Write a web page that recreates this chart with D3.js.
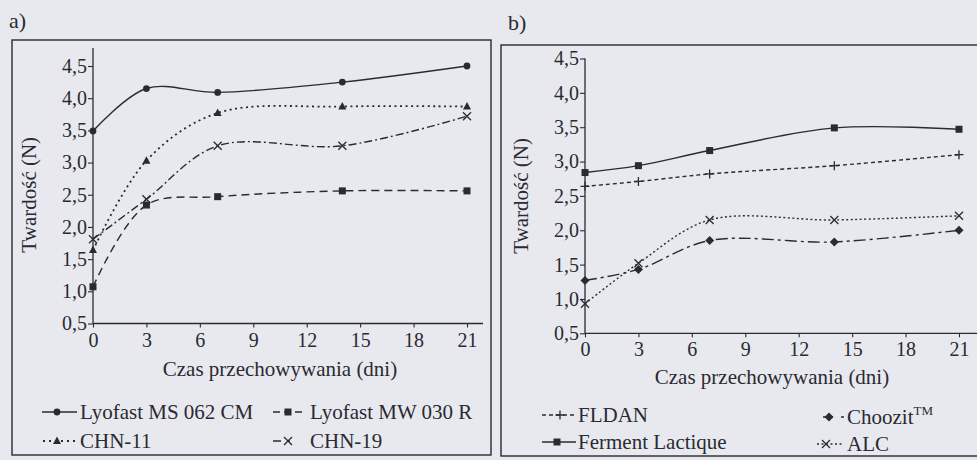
<!DOCTYPE html>
<html>
<head>
<meta charset="utf-8">
<script src="https://cdn.jsdelivr.net/npm/d3@7/dist/d3.min.js"></script>
<style>
  html, body { margin: 0; padding: 0; background: #e8e9ee; }
  svg { display: block; }
</style>
</head>
<body>
<svg id="chart" width="977" height="460"></svg>
<script>
// Storage time (days) at which hardness was measured
const days = [0, 3, 7, 14, 21];
const xTickValues = [0, 3, 6, 9, 12, 15, 18, 21];
const yTickValues = [0.5, 1.0, 1.5, 2.0, 2.5, 3.0, 3.5, 4.0, 4.5];

// Panel a) hardness (N)
const lyofastMS = [3.49, 4.15, 4.09, 4.25, 4.50];
const lyofastMW = [1.07, 2.34, 2.47, 2.56, 2.56];
const chn11     = [1.64, 3.03, 3.77, 3.87, 3.87];
const chn19     = [1.81, 2.43, 3.26, 3.26, 3.72];

// Panel b) hardness (N)
const fermentLactique = [2.84, 2.94, 3.16, 3.49, 3.47];
const fldan           = [2.64, 2.71, 2.82, 2.94, 3.10];
const alc             = [0.93, 1.52, 2.15, 2.15, 2.21];
const choozit         = [1.27, 1.43, 1.85, 1.83, 2.00];

const INK = "#2a2a32";
const FONT = "Liberation Serif";
const svg = d3.select("#chart");
const fmt = v => d3.format(".1f")(v).replace(".", ",");

function label(sel, size) {
  return sel.attr("font-family", FONT).style("font-family", FONT)
    .attr("font-size", size).style("font-size", size + "px").attr("fill", INK);
}

// Marker glyphs
function drawMarker(g, type, cx, cy) {
  if (type === "circle") {
    g.append("circle").attr("cx", cx).attr("cy", cy).attr("r", 3.4).attr("fill", INK);
  } else if (type === "square") {
    g.append("rect").attr("x", cx - 3.5).attr("y", cy - 3.5).attr("width", 7).attr("height", 7).attr("fill", INK);
  } else if (type === "triangle") {
    g.append("path").attr("d", `M${cx},${cy - 4.5}L${cx + 4},${cy + 3}L${cx - 4},${cy + 3}Z`).attr("fill", INK);
  } else if (type === "diamond") {
    g.append("path").attr("d", `M${cx},${cy - 4.5}L${cx + 4.5},${cy}L${cx},${cy + 4.5}L${cx - 4.5},${cy}Z`).attr("fill", INK);
  } else if (type === "cross") {
    g.append("path").attr("d", `M${cx - 4},${cy - 4}L${cx + 4},${cy + 4}M${cx - 4},${cy + 4}L${cx + 4},${cy - 4}`)
      .attr("stroke", INK).attr("stroke-width", 1.3).attr("fill", "none");
  } else if (type === "plus") {
    g.append("path").attr("d", `M${cx - 4.5},${cy}L${cx + 4.5},${cy}M${cx},${cy - 4.5}L${cx},${cy + 4.5}`)
      .attr("stroke", INK).attr("stroke-width", 1.3).attr("fill", "none");
  }
}

function drawPanel(p) {
  const x = d3.scaleLinear().domain([0, 21]).range(p.xRange);
  const y = d3.scaleLinear().domain([0.5, 4.5]).range(p.yRange);
  const g = svg.append("g");

  // Frame around the panel
  g.append("rect").attr("x", p.frame[0]).attr("y", p.frame[1])
    .attr("width", p.frame[2]).attr("height", p.frame[3])
    .attr("fill", "none").attr("stroke", INK).attr("stroke-width", 1.4);

  // Panel letter
  label(g.append("text").attr("x", p.letter[0]).attr("y", p.letter[1]), 22).text(p.letter[2]);

  // Y axis
  const yAxis = d3.axisLeft(y).tickValues(yTickValues).tickFormat(fmt).tickSize(5).tickPadding(1);
  const gy = g.append("g").attr("transform", `translate(${x(0)},0)`).call(yAxis);
  gy.select(".domain").remove();
  gy.selectAll(".tick line").attr("stroke", INK).attr("stroke-width", 1.1);
  label(gy.selectAll(".tick text"), 20);
  g.append("line").attr("x1", x(0)).attr("x2", x(0))
    .attr("y1", y(0.5)).attr("y2", y(p.yAxisTop))
    .attr("stroke", INK).attr("stroke-width", 1.3);

  // X axis
  const xAxis = d3.axisBottom(x).tickValues(xTickValues).tickFormat(d3.format("d")).tickSize(4).tickPadding(5);
  const gx = g.append("g").attr("transform", `translate(0,${y(0.5)})`).call(xAxis);
  gx.select(".domain").remove();
  gx.selectAll(".tick line").attr("stroke", INK).attr("stroke-width", 1.1);
  label(gx.selectAll(".tick text"), 20);
  g.append("line").attr("x1", x(0)).attr("x2", x(p.xAxisEnd))
    .attr("y1", y(0.5)).attr("y2", y(0.5))
    .attr("stroke", INK).attr("stroke-width", 1.3);

  // Axis titles
  label(g.append("text").attr("x", x(10.5)).attr("y", p.xTitleY).attr("text-anchor", "middle"), 21)
    .text("Czas przechowywania (dni)");
  label(g.append("text").attr("transform", `translate(${p.yTitleX},${y(2.5)}) rotate(-90)`)
    .attr("text-anchor", "middle"), 21).text("Twardość (N)");

  // Series lines and markers
  const line = d3.line().x(d => x(d[0])).y(d => y(d[1])).curve(d3.curveCatmullRom.alpha(0.5));
  p.series.forEach(s => {
    const pts = days.map((d, i) => [d, s.values[i]]);
    g.append("path").attr("d", line(pts)).attr("fill", "none")
      .attr("stroke", INK).attr("stroke-width", s.width || 1.4)
      .attr("stroke-dasharray", s.dash);
    pts.forEach(pt => drawMarker(g, s.marker, x(pt[0]), y(pt[1])));
  });

  // Legend
  p.series.forEach(s => {
    const L = s.legend;
    const lg = g.append("g");
    lg.append("line").attr("x1", L.x0).attr("x2", L.x1).attr("y1", L.y).attr("y2", L.y)
      .attr("stroke", INK).attr("stroke-width", s.width || 1.4)
      .attr("stroke-dasharray", s.legendDash || s.dash);
    drawMarker(lg, s.marker, L.mx, L.y);
    const t = label(lg.append("text").attr("x", L.tx).attr("y", L.y + 7), 21).text(s.name);
    if (s.sup) t.append("tspan").attr("dy", -9).style("font-size", "13px").text(s.sup);
  });
}

drawPanel({
  xRange: [93, 467], yRange: [323.5, 66], yAxisTop: 4.78, xAxisEnd: 21.9,
  frame: [12, 40, 479, 415], letter: [9, 28, "a)"],
  xTitleY: 376, yTitleX: 36,
  series: [
    { name: "Lyofast MS 062 CM", values: lyofastMS, marker: "circle", dash: null,
      legend: { x0: 42, x1: 77, mx: 57, tx: 80, y: 412 } },
    { name: "Lyofast MW 030 R", values: lyofastMW, marker: "square", dash: "8,5",
      legendDash: "7,4", legend: { x0: 273, x1: 302, mx: 288, tx: 310, y: 412 } },
    { name: "CHN-11", values: chn11, marker: "triangle", dash: "2,3.5", width: 1.8,
      legendDash: "2,4", legend: { x0: 43, x1: 77, mx: 57, tx: 80, y: 441 } },
    { name: "CHN-19", values: chn19, marker: "cross", dash: "8,3,2,3",
      legendDash: "8,6,3,30", legend: { x0: 273, x1: 303, mx: 288, tx: 310, y: 441 } }
  ]
});

drawPanel({
  xRange: [585, 959], yRange: [333.3, 58.5], yAxisTop: 4.5, xAxisEnd: 23,
  frame: [501, 45, 490, 411], letter: [508, 30, "b)"],
  xTitleY: 384, yTitleX: 528,
  series: [
    { name: "FLDAN", values: fldan, marker: "plus", dash: "4,3",
      legend: { x0: 542, x1: 576, mx: 560, tx: 578, y: 415 } },
    { name: "Ferment Lactique", values: fermentLactique, marker: "square", dash: null,
      legend: { x0: 542, x1: 576, mx: 557, tx: 578, y: 442 } },
    { name: "Choozit", sup: "TM", values: choozit, marker: "diamond", dash: "12,4,3,4",
      legendDash: "10,8,3,40", legend: { x0: 823, x1: 844, mx: 829, tx: 847, y: 417 } },
    { name: "ALC", values: alc, marker: "cross", dash: "2,2.5",
      legend: { x0: 817, x1: 844, mx: 826, tx: 847, y: 444 } }
  ]
});
</script>
</body>
</html>
